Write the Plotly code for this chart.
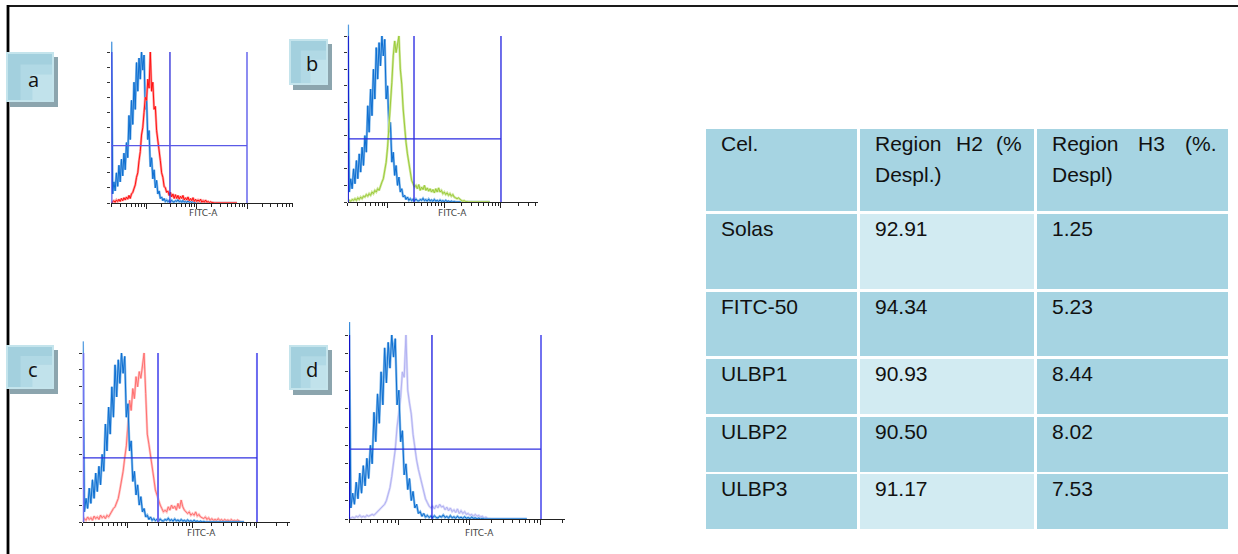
import numpy as np
import plotly.graph_objects as go

W, H = 1238, 554

# ---------------- data ----------------
# histogram bin centres, log10(FITC-A intensity)
bins = np.round(np.arange(1.300, 3.8001, 0.025), 3)

# control (unstained) histogram, % of max
blue_ctrl = [107, 6, 14, 8, 20, 11, 25, 14, 29, 18,
             33, 22, 40, 30, 58, 42, 68, 52, 80, 62,
             93, 74, 96, 82, 100, 88, 98, 62, 70, 42,
             48, 24, 30, 16, 22, 10, 15, 6, 8, 3,
             4, 1.5, 3, 1, 2, 0.8, 1.6, 0.6, 1.8, 0.8,
             0.6, 1.5, 1, 2.2, 0.8, 1.4, 0.5, 1.8, 0.6, 1.2,
             0.4, 1.5, 0.5, 1, 0.3, 1.2, 0.4, 0.8, 0.2, 1,
             0.3, 0.6, 0, 0.5, 0, 0.3] + [0] * 25

fitc50_a = [0, 0.5, 1.5, 0.5, 2, 1, 2.5, 1, 3, 1.5,
            3.5, 2, 4, 2.5, 5, 3, 6, 7, 10, 12,
            17, 20, 28, 34, 45, 50, 60, 70, 68, 82,
            76, 100, 74, 80, 62, 64, 48, 42, 33, 28,
            20, 17, 11, 10, 7, 8, 5, 7, 4, 6,
            3, 5.5, 3, 5, 2.5, 4.5, 3, 5, 2, 3.5,
            2, 4, 1.5, 3, 1.5, 3.5, 1, 2.5, 1, 2,
            1, 2.5, 0.5, 1.5, 0.5, 2, 0.5, 1, 0.3, 0.8,
            0.3] + [0] * 20

ulbp1_b = [0, 1, 0.5, 1.5, 1, 2, 1, 2.5, 1.5, 3,
           2, 3.5, 3, 4.5, 3.5, 5, 4, 6, 5, 7,
           6, 8, 7, 10, 12, 14, 18, 24, 33, 45,
           57, 72, 88, 97, 90, 95, 100, 80, 71, 56,
           44, 36, 29, 23, 17, 13, 11, 9, 10, 8,
           10.5, 7, 9, 7.5, 10, 7, 8.5, 6.5, 8, 6,
           7.5, 5.5, 8, 6, 8.5, 6, 7, 5, 6, 4.5,
           5.5, 4, 5, 3.5, 4.5, 3, 2.5, 2, 2.5, 1.5,
           1, 0.5, 0.8, 0.3] + [0] * 17

ulbp2_c = [0, 2, 1, 3, 1.5, 2.5, 1, 3.5, 2, 3,
           1.5, 4, 2.5, 3.5, 2, 4, 3, 5, 6, 8,
           9, 12, 14, 19, 24, 30, 38, 45, 58, 72,
           66, 79, 73, 86, 80, 89, 85, 92, 100, 76,
           52, 46, 40, 33, 26, 19, 16, 12, 10, 8,
           6, 7, 6, 9, 7, 10, 8, 9.5, 7, 11,
           8, 13, 9, 7, 6, 5, 6, 4, 5, 4,
           6, 3.5, 4.5, 3, 2.5, 2, 3, 1.5, 2.5, 1,
           2, 1, 1.5, 1, 2, 0.8, 1.5, 0.6, 1.5, 0.8,
           1.2, 0.5, 1.5, 0.6, 1, 0.5, 1.2, 0.4, 0, 0, 0]

ulbp3_d = [0, 0.5, 1, 0.5, 1.5, 1, 2, 1, 1.5, 1,
           2, 1.5, 2, 2.5, 2, 3, 3.5, 5, 6, 7,
           8, 10, 13, 17, 23, 30, 38, 50, 57, 66,
           80, 77, 100, 70, 63, 57, 46, 38, 32, 27,
           23, 18, 15, 11, 9, 7, 6, 7, 5.5, 7.5,
           6, 8, 6.5, 7, 5, 6.5, 4.5, 6, 4, 5,
           3.5, 5.5, 3, 4.5, 3, 4, 2.5, 3, 2, 2.5,
           1.5, 2.5, 1.5, 2, 1, 1.5, 0.5, 1, 0.3] + [0] * 22

# gate regions (log10 FITC-A) and marker level (% of max)
gate_lo, gate_mid, gate_hi = 1.30, 2.466, 4.0
marker_level = 38

# table
table_header = [["Cel."], ["Region H2 (%", "Despl.)"], ["Region H3 (%.", "Despl)"]]
cell_names = ["Solas", "FITC-50", "ULBP1", "ULBP2", "ULBP3"]
region_h2 = [92.91, 94.34, 90.93, 90.50, 91.17]
region_h3 = [1.25, 5.23, 8.44, 8.02, 7.53]

# ---------------- helpers ----------------
def fx(px):
    return px / W

def fy(py):
    return 1 - py / H

def log_ticks(lo, hi):
    major, minor = [], []
    for k in range(1, 6):
        for m in range(1, 10):
            v = float(np.log10(m * 10 ** k))
            if lo - 1e-6 <= v <= hi + 1e-6:
                (major if m == 1 else minor).append(v)
    return major, minor

panels = [
    dict(letter="a", data=fitc50_a, col="#FF1010", light="#FF9C9C", top_colored=True,
         xpx=(111.4, 293.0), base=203, top=52, xend=4.916, lab_y=213,
         box=(6, 52, 54, 102),
         axis=("#3434E4", 2.0), g1=("#2A2AD8", 1.3), g2=("#8080F0", 1.8), hz=("#5A5AE6", 1.3)),
    dict(letter="b", data=ulbp1_b, col="#9CCB3A", light="#CFE79E", top_colored=True,
         xpx=(347.9, 538.0), base=202, top=36, xend=4.653, lab_y=213,
         box=(289, 39, 328, 85),
         axis=("#1818D0", 2.0), g1=("#2020E0", 1.3), g2=("#2020E0", 1.3), hz=("#2A2AE0", 1.3)),
    dict(letter="c", data=ulbp2_c, col="#FF7070", light="#FFC2C2", top_colored=False,
         xpx=(82.8, 290.0), base=522, top=353, xend=4.512, lab_y=533,
         box=(6, 345, 54, 389),
         axis=("#7272F0", 3.0), g1=("#6C6CF0", 2.0), g2=("#6C6CF0", 2.0), hz=("#3030E0", 1.3)),
    dict(letter="d", data=ulbp3_d, col="#B2B2F2", light="#DADAFA", top_colored=False,
         xpx=(349.1, 565.0), base=519, top=335, xend=4.338, lab_y=533,
         box=(289, 345, 328, 390),
         axis=("#1212C8", 2.0), g1=("#1616E0", 1.3), g2=("#7272F0", 2.0), hz=("#3030E0", 1.3)),
]

fig = go.Figure()
shapes = []
annotations = []

# outer frame
shapes.append(dict(type="line", xref="paper", yref="paper", x0=fx(7), x1=1, y0=fy(6), y1=fy(6),
                   line=dict(color="#1a1a1a", width=2.2)))
shapes.append(dict(type="line", xref="paper", yref="paper", x0=fx(8), x1=fx(8), y0=fy(5), y1=0,
                   line=dict(color="#000000", width=2.8)))

YMAX = 107
for k, p in enumerate(panels, start=1):
    xa = "x" if k == 1 else f"x{k}"
    ya = "y" if k == 1 else f"y{k}"
    base, top = p["base"], p["top"]
    top_area = base - (base - top) * YMAX / 100.0

    def add_curve(vals, col, light):
        fig.add_trace(go.Scatter(x=bins, y=vals, mode="lines", xaxis=xa, yaxis=ya,
                                 line=dict(color=light, width=2.4), hoverinfo="skip"))
        fig.add_trace(go.Scatter(x=bins, y=vals, mode="lines", xaxis=xa, yaxis=ya,
                                 line=dict(color=col, width=1.0), hoverinfo="skip"))

    if p["top_colored"]:
        add_curve(blue_ctrl, "#0E6ED0", "#86BCEC")
        add_curve(p["data"], p["col"], p["light"])
    else:
        add_curve(p["data"], p["col"], p["light"])
        add_curve(blue_ctrl, "#0E6ED0", "#86BCEC")

    major, minor = log_ticks(1.30, p["xend"])
    xkey = "xaxis" if k == 1 else f"xaxis{k}"
    ykey = "yaxis" if k == 1 else f"yaxis{k}"
    fig.update_layout({
        xkey: dict(domain=[fx(p["xpx"][0]), fx(p["xpx"][1])], range=[1.30, p["xend"]],
                   anchor=ya, showline=True, linecolor="#222222", linewidth=1.2,
                   ticks="outside", ticklen=5, tickwidth=1, tickcolor="#222222",
                   tickvals=major, showticklabels=False, showgrid=False, zeroline=False,
                   minor=dict(tickvals=minor, ticks="outside", ticklen=3, tickwidth=1,
                              tickcolor="#222222", showgrid=False)),
        ykey: dict(domain=[fy(base), fy(top_area)], range=[0, YMAX], anchor=xa,
                   showline=False, ticks="outside", ticklen=3, tickwidth=1.2, tickcolor="#333333",
                   tickvals=list(range(0, 101, 10)), showticklabels=False,
                   showgrid=False, zeroline=False),
    })

    # gate marker lines
    for (xv, st) in [(gate_lo, p["axis"]), (gate_mid, p["g1"]), (gate_hi, p["g2"])]:
        shapes.append(dict(type="line", xref=xa, yref=ya, x0=xv, x1=xv, y0=0, y1=100,
                           line=dict(color=st[0], width=st[1])))
    shapes.append(dict(type="line", xref=xa, yref=ya, x0=gate_lo, x1=gate_hi,
                       y0=marker_level, y1=marker_level,
                       line=dict(color=p["hz"][0], width=p["hz"][1])))

    annotations.append(dict(xref=xa, yref="paper", x=3.14, y=fy(p["lab_y"]), text="FITC-A",
                            showarrow=False, xanchor="center", yanchor="middle",
                            font=dict(family="DejaVu Sans", size=9, color="#444444")))

    # label box
    bx0, by0, bx1, by1 = p["box"]
    shapes.append(dict(type="rect", xref="paper", yref="paper", x0=fx(bx0 + 4), x1=fx(bx1 + 4),
                       y0=fy(by0 + 5), y1=fy(by1 + 5), line=dict(width=0), fillcolor="#8CA5AE"))
    shapes.append(dict(type="rect", xref="paper", yref="paper", x0=fx(bx0), x1=fx(bx1),
                       y0=fy(by0), y1=fy(by1), line=dict(width=0), fillcolor="#C4E4EC"))
    shapes.append(dict(type="rect", xref="paper", yref="paper", x0=fx(bx0 + 2), x1=fx(bx1 - 2),
                       y0=fy(by0 + 2), y1=fy(by1 - 2), line=dict(width=0), fillcolor="#A3D0DE"))
    bw, bh = bx1 - bx0, by1 - by0
    shapes.append(dict(type="rect", xref="paper", yref="paper", x0=fx(bx0 + bw * 0.3), x1=fx(bx1 - 2),
                       y0=fy(by0 + bh * 0.25), y1=fy(by1 - 2), line=dict(width=0),
                       fillcolor="#C0E2EB", opacity=0.5))
    shapes.append(dict(type="rect", xref="paper", yref="paper", x0=fx(bx0 + bw * 0.55), x1=fx(bx1 - 2),
                       y0=fy(by0 + bh * 0.45), y1=fy(by1 - 2), line=dict(width=0),
                       fillcolor="#D2EBF2", opacity=0.5))
    annotations.append(dict(xref="paper", yref="paper", x=fx((bx0 + bx1) / 2 + 3),
                            y=fy((by0 + by1) / 2 + 2), text=p["letter"], showarrow=False,
                            xanchor="center", yanchor="middle",
                            font=dict(family="Open Sans", size=20, color="#111111")))

# ---------------- table ----------------
col_px = [(706, 857), (860, 1034), (1037, 1228)]
row_px = [(129, 211), (214, 289), (292, 356), (359, 414), (417, 472), (474, 529)]
DARK, LIGHT = "#A6D4E2", "#D2EBF2"
TFONT = dict(family="Liberation Sans, Arial", size=21, color="#111111")
PAD_L, PAD_R = 13, 14

ARIAL = {"R": 722, "e": 556, "g": 556, "i": 222, "o": 556, "n": 556, "H": 722, "(": 333,
         "%": 889, ".": 278, " ": 278, "D": 722, "s": 500, "p": 556, "l": 222, ")": 333}

def text_w(s):
    return sum(ARIAL.get(c, 556) for c in s) / 1000 * TFONT["size"]

for r, (ry0, ry1) in enumerate(row_px):
    for c, (cx0, cx1) in enumerate(col_px):
        fill = LIGHT if (c == 1 and r in (1, 3, 5)) else DARK
        shapes.append(dict(type="rect", xref="paper", yref="paper", x0=fx(cx0), x1=fx(cx1),
                           y0=fy(ry0), y1=fy(ry1), line=dict(width=0), fillcolor=fill,
                           layer="below"))

def put(x, y, s, anchor="left"):
    annotations.append(dict(xref="paper", yref="paper", x=fx(x), y=fy(y), text=s,
                            showarrow=False, xanchor=anchor, yanchor="middle", font=TFONT))

LINE1, LINE2 = 14.5, 45.0
for c, lines in enumerate(table_header):
    cx0, cx1 = col_px[c]
    ry0 = row_px[0][0]
    for li, line in enumerate(lines):
        y = ry0 + (LINE1 if li == 0 else LINE2)
        words = line.split(" ")
        if li == 0 and len(words) > 1:
            xl, xr = cx0 + PAD_L, cx1 - PAD_R
            gap = (xr - xl - sum(text_w(w) for w in words)) / (len(words) - 1)
            pos = xl
            for w in words:
                put(pos, y, w)
                pos += text_w(w) + gap
        else:
            put(cx0 + PAD_L, y, line)

for r in range(len(cell_names)):
    ry0 = row_px[r + 1][0]
    y = ry0 + 14.5
    put(col_px[0][0] + PAD_L, y, cell_names[r])
    put(col_px[1][0] + PAD_L, y, f"{region_h2[r]:.2f}")
    put(col_px[2][0] + PAD_L, y, f"{region_h3[r]:.2f}")

fig.update_layout(width=W, height=H, margin=dict(l=0, r=0, t=0, b=0),
                  paper_bgcolor="white", plot_bgcolor="rgba(0,0,0,0)",
                  showlegend=False, shapes=shapes, annotations=annotations)

fig.write_html("out.html")
